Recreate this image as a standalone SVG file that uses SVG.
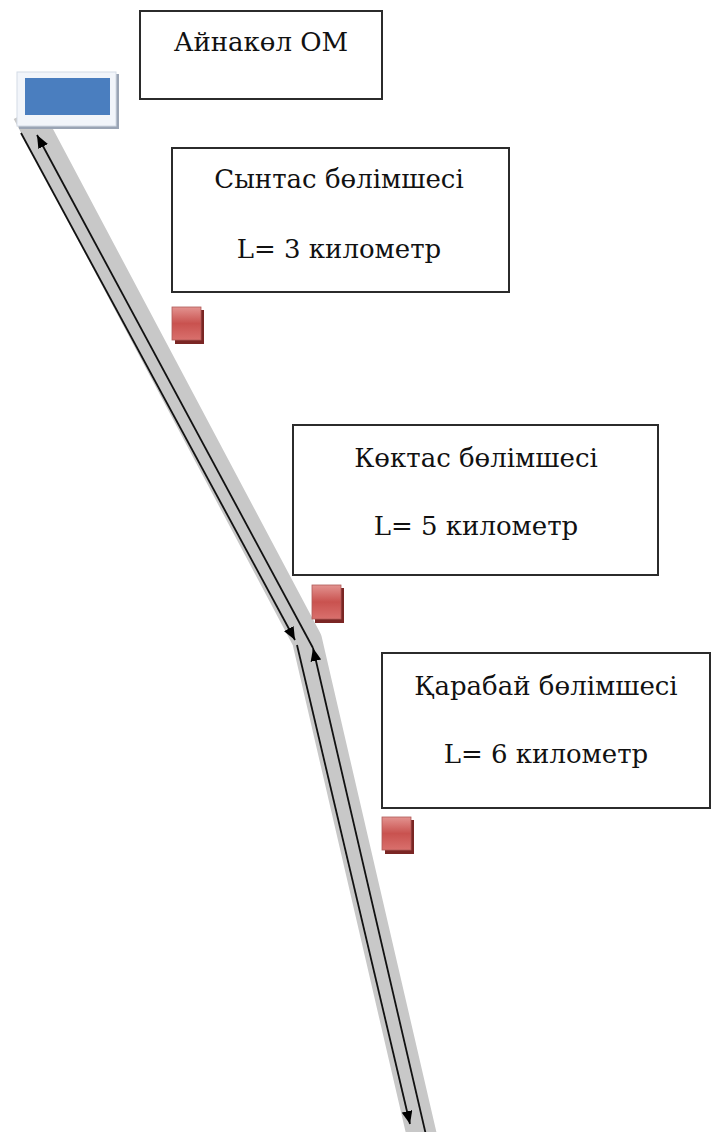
<svg xmlns="http://www.w3.org/2000/svg" width="712" height="1132" viewBox="0 0 712 1132">
<style>
.box{fill:#fff;stroke:#2b2b2b;stroke-width:2}
.t{font-family:'DejaVu Serif',serif;font-size:26px;fill:#111;text-anchor:middle}
.road{fill:none;stroke:#c8c8c8;stroke-width:30;stroke-linejoin:round}
.ln{fill:none;stroke:#111;stroke-width:1.8}
.sh{fill:#7a2624}
.sq{fill:url(#rg);stroke:#b05a58;stroke-width:0.8}
</style>
<defs>
<marker id="ah" viewBox="0 0 12 10" refX="12" refY="5" markerWidth="13" markerHeight="11" markerUnits="userSpaceOnUse" orient="auto">
<path d="M0,0 L12,5 L0,10 Z" fill="#000"/>
</marker>
<linearGradient id="rg" x1="0" y1="0" x2="0" y2="1">
<stop offset="0" stop-color="#e39390"/>
<stop offset="0.5" stop-color="#c9524f"/>
<stop offset="1" stop-color="#d9706d"/>
</linearGradient>
</defs>
<g id="connectors">
<polyline class="road" points="27,112 307,640 424,1145"/>
<line class="ln" x1="21" y1="133" x2="295" y2="640" marker-end="url(#ah)"/>
<line class="ln" x1="297" y1="645" x2="410" y2="1124" marker-end="url(#ah)"/>
<line class="ln" x1="426" y1="1135" x2="313" y2="648" marker-end="url(#ah)"/>
<line class="ln" x1="313" y1="648" x2="37" y2="135" marker-end="url(#ah)"/>
</g>
<g id="base">
<rect x="19" y="74" width="100" height="55" fill="#9aa4b4"/>
<rect x="17" y="72" width="99" height="54" fill="#f2f5fa" stroke="#d4dbe6" stroke-width="1"/>
<rect x="25" y="78" width="85" height="37" fill="#4a7ebf"/>
</g>
<g id="node-ainakol">
<rect class="box" x="140" y="11" width="242" height="88"/>
<text class="t" x="261" y="51">Айнакөл ОМ</text>
</g>
<g id="node-syntas">
<rect class="box" x="172" y="148" width="337" height="144"/>
<text class="t" x="339" y="188">Сынтас бөлімшесі</text>
<text class="t" x="339" y="258">L= 3 километр</text>
</g>
<g id="node-koktas">
<rect class="box" x="293" y="425" width="365" height="150"/>
<text class="t" x="476" y="467">Көктас бөлімшесі</text>
<text class="t" x="476" y="535">L= 5 километр</text>
</g>
<g id="node-karabai">
<rect class="box" x="382" y="653" width="328" height="155"/>
<text class="t" x="546" y="695">Қарабай бөлімшесі</text>
<text class="t" x="546" y="763">L= 6 километр</text>
</g>
<g id="marker-1">
<rect class="sh" x="175" y="310" width="29" height="34"/>
<rect class="sq" x="172" y="307" width="29" height="33"/>
</g>
<g id="marker-2">
<rect class="sh" x="315" y="588" width="29" height="35"/>
<rect class="sq" x="312" y="585" width="29" height="34"/>
</g>
<g id="marker-3">
<rect class="sh" x="385" y="820" width="29" height="34"/>
<rect class="sq" x="382" y="817" width="29" height="33"/>
</g>
</svg>
